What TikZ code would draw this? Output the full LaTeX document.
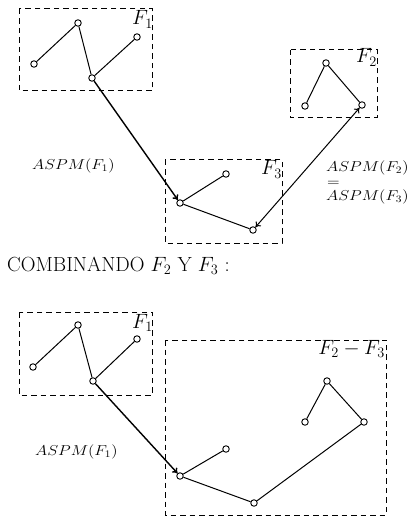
\documentclass[tikz,border=0pt]{standalone}
\usetikzlibrary{arrows.meta}
\begin{document}
\begin{tikzpicture}[x=1bp,y=-1bp,
  vtx/.style={circle, draw, fill=white, inner sep=0pt, minimum size=6.5bp, line width=0.9bp},
  edg/.style={line width=1bp},
  bigarrow/.style={line width=1.4bp, -{To[length=5bp,width=7bp]}},
  dblarrow/.style={line width=1bp, {To[length=5bp,width=7bp]}-{To[length=5bp,width=7bp]}},
  grp/.style={draw, dash pattern=on 5.5bp off 4bp, line width=1bp},
  flab/.style={font=\fontsize{20}{20}\selectfont, anchor=base east, inner sep=0pt},
  aspm/.style={font=\fontsize{14}{16}\selectfont, anchor=west, inner sep=0pt},
  title/.style={font=\fontsize{20.5}{24}\selectfont, anchor=base west, inner sep=0pt}]
\useasboundingbox (0,0) rectangle (409,517);

% ---------- top part ----------
\draw[grp] (19,9) rectangle (152,91);
\draw[grp] (165,160) rectangle (282,243);
\draw[grp] (290,50) rectangle (377,118);
\node[flab] (lf1) at (153,25) {$F_1$};
\node[flab] (lf3) at (282,175) {$F_3$};
\node[flab] (lf2) at (377,63) {$F_2$};

\node[vtx] (a) at (34,64) {};
\node[vtx] (b) at (78,23) {};
\node[vtx] (c) at (137,37) {};
\node[vtx] (d) at (92,78) {};
\node[vtx] (e) at (180,203) {};
\node[vtx] (f) at (226,174) {};
\node[vtx] (g) at (253,230) {};
\node[vtx] (h) at (305,106) {};
\node[vtx] (i) at (326,63) {};
\node[vtx] (j) at (362,105) {};

\draw[edg] (a) -- (b);
\draw[edg] (b) -- (d);
\draw[edg] (d) -- (c);
\draw[edg] (e) -- (f);
\draw[edg] (e) -- (g);
\draw[edg] (h) -- (i);
\draw[edg] (i) -- (j);
\draw[bigarrow] (d) -- (e);
\draw[dblarrow] (g) -- (j);

\node[aspm] (t1) at (32,166) {\scalebox{1.15}[1]{$ASPM(F_1)$}};
\node[aspm, align=left] (t23) at (326,182.5)
  {\scalebox{1.15}[1]{$ASPM(F_2)$}\\[-1.5pt]
   \hspace{1pt}\scalebox{1.15}[1]{$=$}\\[-1.5pt]
   \scalebox{1.15}[1]{$ASPM(F_3)$}};

\node[title] (comb) at (7,271) {COMBINANDO $F_2$ Y $F_3$ :};

% ---------- bottom part ----------
\draw[grp] (19,312) rectangle (152,395);
\draw[grp] (165,340) rectangle (386,515);
\node[flab] (lf1b) at (153,328) {$F_1$};
\node[flab] (lf23) at (385,354) {$F_2-F_3$};

\node[vtx] (a2) at (33,367) {};
\node[vtx] (b2) at (78,325) {};
\node[vtx] (c2) at (137,339) {};
\node[vtx] (d2) at (93,381) {};
\node[vtx] (e2) at (180,476) {};
\node[vtx] (f2) at (226,449) {};
\node[vtx] (g2) at (254,503) {};
\node[vtx] (h2) at (305,422) {};
\node[vtx] (i2) at (327,381) {};
\node[vtx] (j2) at (364,422) {};

\draw[edg] (a2) -- (b2);
\draw[edg] (b2) -- (d2);
\draw[edg] (d2) -- (c2);
\draw[edg] (e2) -- (f2);
\draw[edg] (e2) -- (g2);
\draw[edg] (g2) -- (j2);
\draw[edg] (h2) -- (i2);
\draw[edg] (i2) -- (j2);
\draw[bigarrow] (d2) -- (e2);

\node[aspm] (t1b) at (35,452) {\scalebox{1.15}[1]{$ASPM(F_1)$}};
\end{tikzpicture}
\end{document}
